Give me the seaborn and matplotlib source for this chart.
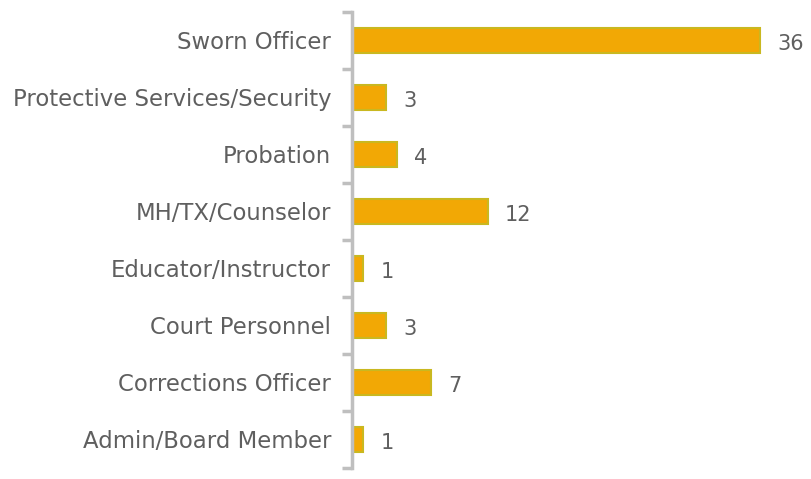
import matplotlib.pyplot as plt
import seaborn as sns
import pandas as pd
import numpy as np

roles = [
    "Sworn Officer",
    "Protective Services/Security",
    "Probation",
    "MH/TX/Counselor",
    "Educator/Instructor",
    "Court Personnel",
    "Corrections Officer",
    "Admin/Board Member",
]
counts = [36, 3, 4, 12, 1, 3, 7, 1]

df = pd.DataFrame({"role": roles, "count": counts})

sns.set_theme(style="white")
plt.rcParams["font.family"] = ["DejaVu Sans"]

fig = plt.figure(figsize=(8.12, 4.79), dpi=100)
ax = fig.add_axes([0.4335, 0.023, 0.5665, 0.952])

sns.barplot(data=df, y="role", x="count", order=roles, orient="h",
            color="#F2A805", width=0.44, edgecolor="#C9B820", linewidth=1.5,
            saturation=1, ax=ax)

for i, v in enumerate(counts):
    ax.text(v + 1.5, i + 0.06, str(v), va="center", ha="left",
            fontsize=15, color="#5F5F5F")

ax.set_xlim(0, 40.6)
ax.set_ylim(len(roles) - 0.5, -0.5)
ax.set_xlabel("")
ax.set_ylabel("")
ax.set_xticks([])
ax.tick_params(axis="y", which="major", left=False, length=0, labelsize=16.4,
               labelcolor="#5F5F5F", pad=15)
ax.set_yticks(np.arange(-0.5, len(roles), 1), minor=True)
ax.tick_params(axis="y", which="minor", left=True, length=7, width=2.5,
               color="#BFBFBF", direction="out")
for s in ["top", "right", "bottom"]:
    ax.spines[s].set_visible(False)
ax.spines["left"].set_color("#BFBFBF")
ax.spines["left"].set_linewidth(2.5)

fig.savefig("out.png", dpi=100)
